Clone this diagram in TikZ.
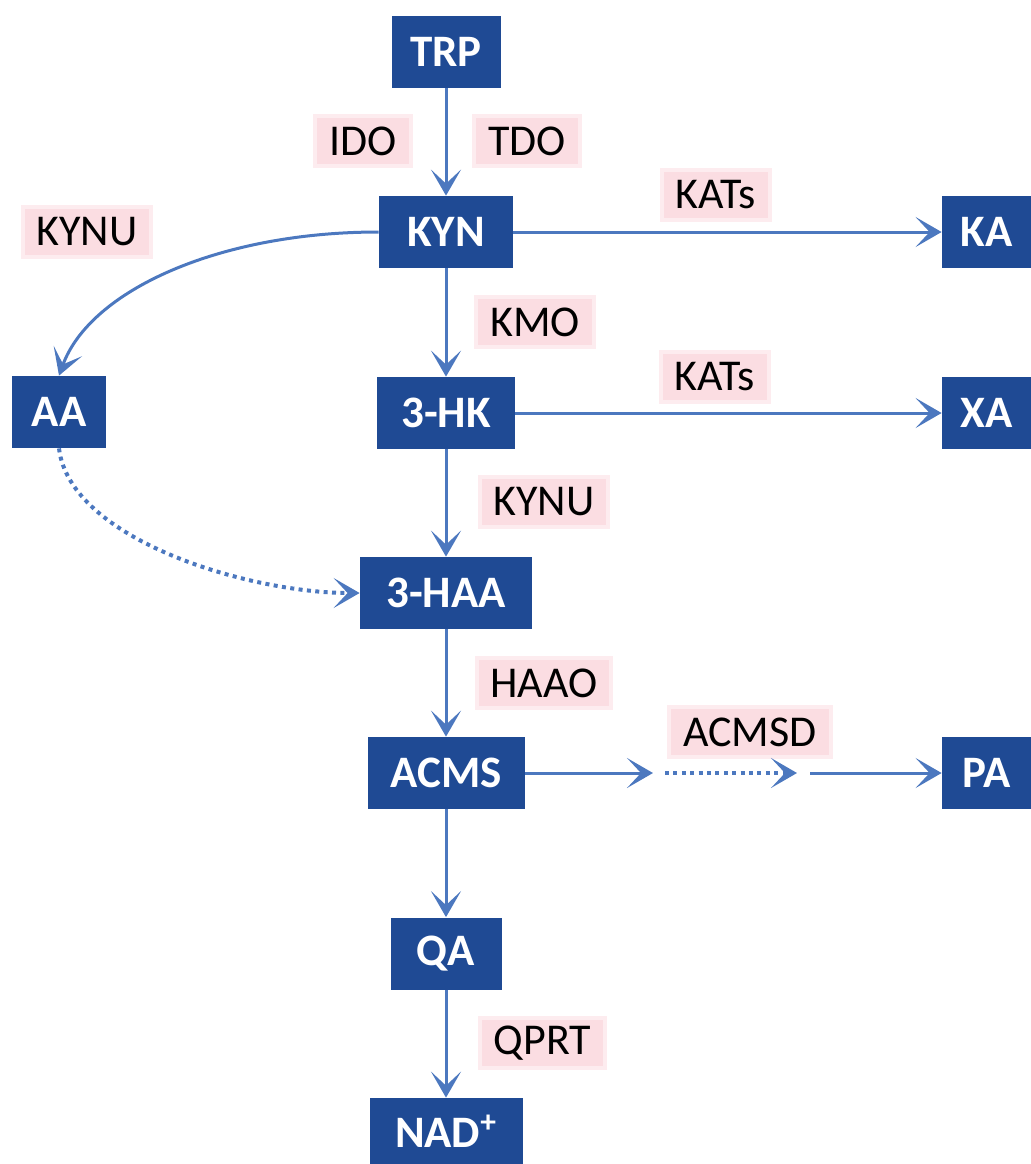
\documentclass[tikz,border=0pt]{standalone}
\usepackage{fontspec}
\setmainfont{Carlito}
\usetikzlibrary{positioning,arrows.meta,calc}
\definecolor{metBlue}{HTML}{1F4A94}
\definecolor{flowBlue}{HTML}{4C78BF}
\definecolor{enzPink}{HTML}{FBDDE2}

\begin{document}
\begin{tikzpicture}[x=0.5pt, y=-0.5pt, >={Stealth[length=13pt, width=15pt, inset=7pt]},
          met/.style={fill=metBlue, text=white, font=\fontsize{22.5}{26}\selectfont\bfseries, minimum height=36pt, inner sep=0pt},
          enz/.style={fill=enzPink, draw=enzPink!55, line width=2pt, font=\fontsize{22}{26}\selectfont, minimum height=25pt, inner xsep=7pt, inner ysep=0pt},
          flow/.style={->, flowBlue, line width=1.5pt},
          dots/.style={flow, line width=2pt, dash pattern=on 2pt off 2.2pt}]
        \useasboundingbox (0,0) rectangle (1031,1164);
        % metabolites
        \node[met, minimum width=54.5pt] (trp) at (446,51.5) {TRP};
        \node[met, minimum width=67pt] (kyn) at (446,232) {KYN};
        \node[met, minimum width=47pt] (aa) at (59,412) {AA};
        \node[met, minimum width=69pt] (hk) at (446,413) {3-HK};
        \node[met, minimum width=44.5pt] (ka) at (986.5,232) {KA};
        \node[met, minimum width=44.5pt] (xa) at (986.5,413) {XA};
        \node[met, minimum width=86pt] (haa) at (446,593) {3-HAA};
        \node[met, minimum width=78.5pt] (acms) at (446,773) {ACMS};
        \node[met, minimum width=44.5pt] (pa) at (986.5,773) {PA};
        \node[met, minimum width=55.5pt] (qa) at (446,953.5) {QA};
        \node[met, minimum width=76.5pt, minimum height=33pt] (nad) at (446,1131) {NAD\textsuperscript{+}};
        % enzymes
        \node[enz] (ido) at (363,141) {IDO};
        \node[enz] (tdo) at (527,141) {TDO};
        \node[enz] (kynuA) at (87,232) {KYNU};
        \node[enz] (katsA) at (716,195) {KATs};
        \node[enz] (kmo) at (535,322) {KMO};
        \node[enz] (katsB) at (715,377) {KATs};
        \node[enz] (kynuB) at (544,502) {KYNU};
        \node[enz] (haao) at (544,683) {HAAO};
        \node[enz] (acmsd) at (750,732) {ACMSD};
        \node[enz] (qprt) at (542.5,1043) {QPRT};
        % main line
        \draw[flow] (trp) -- (kyn);
        \draw[flow] (kyn) -- (hk);
        \draw[flow] (hk) -- (haa);
        \draw[flow] (haa) -- (acms);
        \draw[flow] (acms) -- (qa);
        \draw[flow] (qa) -- (nad);
        \draw[flow] (kyn) -- (ka);
        \draw[flow] (hk) -- (xa);
        \draw[flow] (kyn.west) .. controls (220,232) and (90,290) .. (aa.north);
        \draw[dots] (aa.south) .. controls (70,540) and (250,593) .. (haa.west);
        % ACMS to PA, broken
        \coordinate (m1) at (653,773);
        \coordinate (m2) at (665,773);
        \coordinate (m3) at (797,773);
        \coordinate (m4) at (810,773);
        \draw[flow] (acms) -- (m1);
        \draw[dots] (m2) -- (m3);
        \draw[flow] (m4) -- (pa);
      \end{tikzpicture}
\end{document}
